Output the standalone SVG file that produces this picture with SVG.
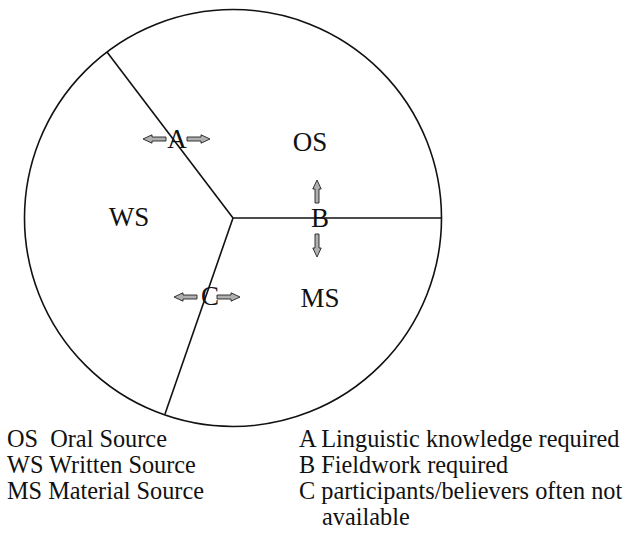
<svg xmlns="http://www.w3.org/2000/svg" xmlns:xlink="http://www.w3.org/1999/xlink" width="629" height="542" viewBox="0 0 629 542">
<style>
.ln{fill:none;stroke:#111;stroke-width:1.6}
.lbl{font-size:27px;fill:#111;text-anchor:middle}
.leg{font-size:24.3px;fill:#111}
.arr{fill:#b0b0b0;stroke:#222;stroke-width:0.9}
</style>
<defs>
<path id="arrow" class="arr" d="M0,-2 H14 V-4.2 L23,0 L14,4.2 V2 H0 Z"/>
</defs>
<rect width="629" height="542" fill="#fff"/>
<g id="circle"><circle class="ln" cx="233" cy="218" r="208.5"/></g>
<g id="connectors">
<line class="ln" x1="233" y1="218" x2="107" y2="52"/>
<line class="ln" x1="233" y1="218" x2="441" y2="218"/>
<line class="ln" x1="233" y1="218" x2="165" y2="414"/>
</g>
<g font-family="Liberation Serif, DejaVu Serif, serif">
<g id="OS"><text class="lbl" x="310" y="151">OS</text></g>
<g id="WS"><text class="lbl" x="129" y="226">WS</text></g>
<g id="MS"><text class="lbl" x="320" y="307">MS</text></g>
<g id="A">
<use xlink:href="#arrow" transform="translate(166,139) rotate(180)"/>
<use xlink:href="#arrow" transform="translate(187,139)"/>
<text class="lbl" x="177" y="148">A</text>
</g>
<g id="B">
<use xlink:href="#arrow" transform="translate(317,203) rotate(-90)"/>
<use xlink:href="#arrow" transform="translate(317,234) rotate(90)"/>
<text class="lbl" x="320" y="227">B</text>
</g>
<g id="C">
<use xlink:href="#arrow" transform="translate(197,297) rotate(180)"/>
<use xlink:href="#arrow" transform="translate(217,297)"/>
<text class="lbl" x="210" y="305">C</text>
</g>
<g id="legend">
<text class="leg" x="7" y="447" xml:space="preserve">OS  Oral Source</text>
<text class="leg" x="7" y="473">WS Written Source</text>
<text class="leg" x="7" y="499">MS Material Source</text>
<text class="leg" x="299" y="447">A Linguistic knowledge required</text>
<text class="leg" x="299" y="473">B Fieldwork required</text>
<text class="leg" x="299" y="499">C participants/believers often not</text>
<text class="leg" x="322" y="525">available</text>
</g>
</g>
</svg>
